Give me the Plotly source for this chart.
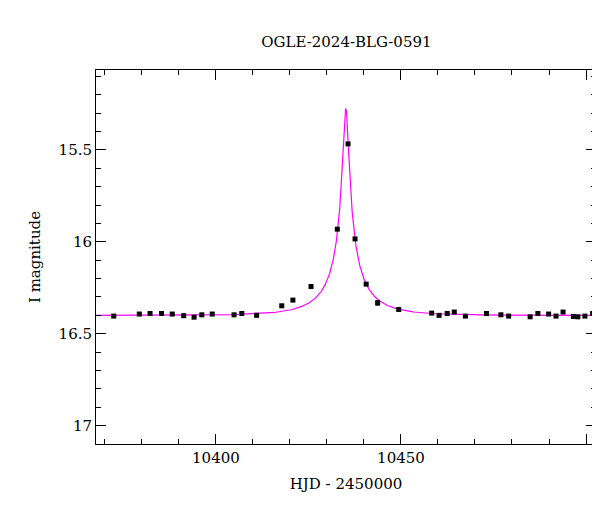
import numpy as np
import plotly.graph_objects as go

hjd = [10372.4, 10379.3, 10382.2, 10385.3, 10388.2, 10391.3, 10394.1, 10396.2, 10399.0,
       10404.9, 10407.0, 10411.0, 10417.8, 10420.8, 10425.7, 10432.8, 10435.7, 10437.6,
       10440.6, 10443.7, 10449.4, 10458.3, 10460.3, 10462.5, 10464.4, 10467.4, 10473.1,
       10477.0, 10479.1, 10484.9, 10487.0, 10489.9, 10491.9, 10493.8, 10496.6, 10497.8,
       10499.7, 10501.8]
mag = [16.404, 16.393, 16.390, 16.390, 16.393, 16.402, 16.410, 16.397, 16.393,
       16.397, 16.390, 16.400, 16.348, 16.317, 16.243, 15.931, 15.467, 15.984,
       16.230, 16.332, 16.368, 16.388, 16.400, 16.390, 16.382, 16.404, 16.390,
       16.397, 16.404, 16.408, 16.390, 16.393, 16.404, 16.382, 16.406, 16.408,
       16.404, 16.390]
err = [0.007] * len(hjd)
err[19] = 0.012
err[5] = 0.008

# point-lens model
t0, tE, u0, fs, I0 = 10435.1, 12.5, 0.062, 0.12, 16.40
t = np.linspace(10367, 10503, 2000)
u = np.sqrt(u0**2 + ((t - t0) / tE) ** 2)
A = (u**2 + 2) / (u * np.sqrt(u**2 + 4))
model = I0 - 2.5 * np.log10(fs * A + 1 - fs)

fig = go.Figure()
fig.add_trace(go.Scatter(x=t, y=model, mode="lines", line=dict(color="#ff00ff", width=1.2)))
fig.add_trace(go.Scatter(x=hjd, y=mag, mode="markers",
                         marker=dict(color="black", size=5, symbol="square"),
                         error_y=dict(array=err, color="black", thickness=1, width=2)))

font = dict(family="DejaVu Serif", size=15, color="black")
axis = dict(showline=True, mirror="allticks", linecolor="black", linewidth=1,
            ticks="inside", ticklen=10, tickcolor="black",
            showgrid=False, zeroline=False, tickfont=font, automargin=False)
fig.update_layout(
    width=600, height=512, template="plotly_white", showlegend=False,
    margin=dict(l=88, r=12, t=62, b=76),
    title=dict(text="OGLE-2024-BLG-0591", x=0.564, y=0.945, font=font),
    font=font,
    xaxis=dict(axis, range=[10367.6, 10502.7], dtick=50, tickformat="d",
               minor=dict(ticks="inside", ticklen=5, dtick=10, tickcolor="black"),
               title=dict(text="HJD - 2450000", font=font, standoff=12)),
    yaxis=dict(axis, range=[17.1, 15.065],
               minor=dict(ticks="inside", ticklen=5, dtick=0.1, tickcolor="black"),
               tickvals=[15.5, 16, 16.5, 17], ticktext=["15.5", "16", "16.5", "17"],
               title=dict(text="I magnitude", font=font, standoff=14)),
)
fig.write_html("out.html")
